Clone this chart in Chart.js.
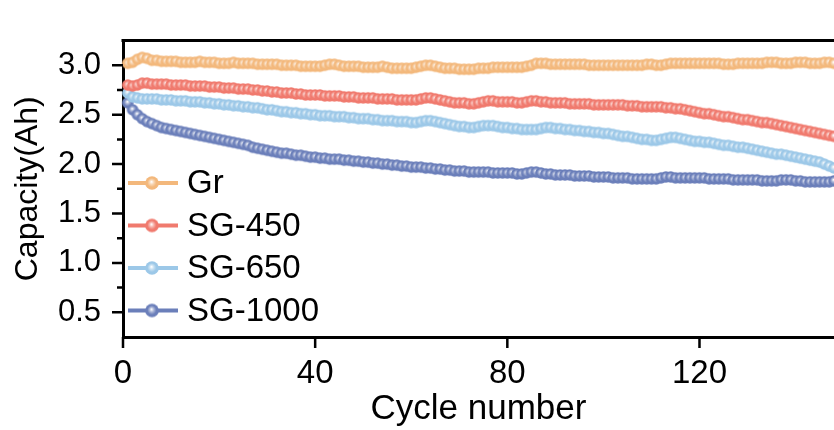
<!DOCTYPE html>
<html>
<head>
<meta charset="utf-8">
<script src="https://cdn.jsdelivr.net/npm/chart.js@4.4.0/dist/chart.umd.min.js"></script>
<style>
  body { margin: 0; background: #fff; }
  canvas { display: block; }
</style>
</head>
<body>
<canvas id="chart" width="834" height="430"></canvas>
<script>
var seriesNames = ["Gr", "SG-450", "SG-650", "SG-1000"];
var seriesColors = ["#F3B87C", "#F07A6E", "#9CC8E8", "#6B7FBA"];
var xTicks = [0, 40, 80, 120];
var yTicks = [0.5, 1.0, 1.5, 2.0, 2.5, 3.0];

// one point per cycle, cycles 1..148
var cycles = [];
for (var i = 1; i <= 148; i++) cycles.push(i);

var gr = [
  3.02, 3.03, 3.06, 3.08, 3.07, 3.05, 3.05, 3.04, 3.04, 3.04,
  3.04, 3.03, 3.03, 3.03, 3.03, 3.04, 3.03, 3.03, 3.03, 3.02,
  3.02, 3.02, 3.03, 3.02, 3.02, 3.02, 3.02, 3.01, 3.01, 3.01,
  3.01, 3.01, 3.00, 3.00, 3.00, 3.00, 2.99, 2.99, 2.99, 2.99,
  2.99, 3.00, 3.01, 3.01, 3.00, 2.99, 2.99, 2.99, 2.99, 2.98,
  2.98, 2.98, 2.98, 2.99, 2.98, 2.97, 2.97, 2.97, 2.97, 2.97,
  2.98, 2.99, 3.00, 3.00, 2.99, 2.98, 2.97, 2.97, 2.97, 2.96,
  2.96, 2.96, 2.96, 2.97, 2.97, 2.97, 2.98, 2.98, 2.98, 2.98,
  2.98, 2.98, 2.98, 2.99, 3.00, 3.02, 3.02, 3.02, 3.01, 3.01,
  3.01, 3.01, 3.01, 3.01, 3.01, 3.01, 3.00, 3.00, 3.00, 3.00,
  3.00, 3.00, 3.00, 3.00, 3.00, 3.00, 3.00, 3.00, 3.01, 3.01,
  3.00, 3.00, 3.01, 3.02, 3.02, 3.02, 3.02, 3.02, 3.02, 3.02,
  3.02, 3.02, 3.02, 3.02, 3.01, 3.01, 3.01, 3.02, 3.02, 3.02,
  3.02, 3.02, 3.02, 3.03, 3.03, 3.03, 3.02, 3.02, 3.02, 3.03,
  3.03, 3.03, 3.02, 3.02, 3.02, 3.03, 3.03, 3.02
];
var sg450 = [
  2.80, 2.79, 2.80, 2.82, 2.82, 2.81, 2.81, 2.81, 2.81, 2.80,
  2.80, 2.80, 2.80, 2.79, 2.79, 2.79, 2.79, 2.78, 2.78, 2.78,
  2.77, 2.77, 2.77, 2.76, 2.76, 2.76, 2.75, 2.75, 2.74, 2.74,
  2.73, 2.73, 2.72, 2.72, 2.72, 2.71, 2.71, 2.70, 2.70, 2.70,
  2.70, 2.69, 2.69, 2.69, 2.69, 2.68, 2.68, 2.68, 2.67, 2.67,
  2.67, 2.67, 2.66, 2.66, 2.66, 2.66, 2.65, 2.65, 2.65, 2.65,
  2.65, 2.66, 2.67, 2.67, 2.66, 2.65, 2.64, 2.63, 2.62, 2.62,
  2.62, 2.61, 2.61, 2.62, 2.63, 2.64, 2.64, 2.63, 2.63, 2.63,
  2.63, 2.62, 2.62, 2.63, 2.64, 2.64, 2.63, 2.63, 2.62, 2.62,
  2.62, 2.62, 2.61, 2.61, 2.61, 2.61, 2.61, 2.60, 2.60, 2.60,
  2.60, 2.60, 2.60, 2.60, 2.59, 2.59, 2.59, 2.58, 2.58, 2.58,
  2.58, 2.58, 2.57, 2.57, 2.56, 2.56, 2.55, 2.54, 2.53, 2.52,
  2.51, 2.51, 2.50, 2.49, 2.48, 2.48, 2.47, 2.46, 2.45, 2.45,
  2.44, 2.43, 2.42, 2.42, 2.41, 2.40, 2.39, 2.38, 2.37, 2.36,
  2.35, 2.34, 2.33, 2.32, 2.31, 2.30, 2.29, 2.28
];
var sg650 = [
  2.72, 2.68, 2.67, 2.66, 2.66, 2.66, 2.66, 2.65, 2.65, 2.65,
  2.64, 2.64, 2.64, 2.63, 2.63, 2.63, 2.62, 2.62, 2.61, 2.61,
  2.60, 2.60, 2.59, 2.59, 2.58, 2.58, 2.57, 2.57, 2.56, 2.55,
  2.55, 2.54, 2.53, 2.53, 2.52, 2.52, 2.51, 2.51, 2.50, 2.50,
  2.49, 2.49, 2.49, 2.48, 2.48, 2.48, 2.47, 2.47, 2.46, 2.46,
  2.46, 2.45, 2.45, 2.44, 2.44, 2.44, 2.43, 2.43, 2.43, 2.42,
  2.42, 2.43, 2.44, 2.44, 2.43, 2.42, 2.41, 2.40, 2.39, 2.38,
  2.38, 2.37, 2.37, 2.38, 2.39, 2.39, 2.39, 2.38, 2.37, 2.37,
  2.36, 2.36, 2.35, 2.35, 2.35, 2.35, 2.36, 2.37, 2.37, 2.36,
  2.36, 2.35, 2.35, 2.34, 2.34, 2.33, 2.33, 2.32, 2.32, 2.31,
  2.31, 2.30, 2.29, 2.28, 2.28, 2.27, 2.26, 2.25, 2.25, 2.24,
  2.24, 2.25, 2.26, 2.27, 2.27, 2.26, 2.25, 2.24, 2.23, 2.23,
  2.22, 2.22, 2.21, 2.20, 2.19, 2.19, 2.18, 2.17, 2.17, 2.16,
  2.15, 2.14, 2.13, 2.12, 2.11, 2.10, 2.10, 2.09, 2.08, 2.07,
  2.06, 2.05, 2.04, 2.03, 2.02, 2.00, 1.98, 1.96
];
var sg1000 = [
  2.62, 2.55, 2.50, 2.46, 2.43, 2.41, 2.39, 2.37, 2.36, 2.35,
  2.34, 2.33, 2.32, 2.31, 2.30, 2.29, 2.28, 2.27, 2.26, 2.25,
  2.24, 2.23, 2.22, 2.21, 2.20, 2.19, 2.17, 2.16, 2.15, 2.14,
  2.13, 2.12, 2.11, 2.11, 2.10, 2.09, 2.09, 2.08, 2.07, 2.07,
  2.06, 2.06, 2.05, 2.05, 2.05, 2.04, 2.04, 2.03, 2.03, 2.02,
  2.02, 2.01, 2.01, 2.00, 2.00, 1.99, 1.99, 1.98, 1.98, 1.97,
  1.97, 1.97, 1.96, 1.96, 1.95, 1.95, 1.94, 1.94, 1.93, 1.93,
  1.93, 1.92, 1.92, 1.92, 1.92, 1.92, 1.91, 1.91, 1.91, 1.91,
  1.91, 1.90, 1.90, 1.91, 1.92, 1.92, 1.91, 1.90, 1.90, 1.89,
  1.89, 1.89, 1.89, 1.88, 1.88, 1.88, 1.88, 1.87, 1.87, 1.87,
  1.87, 1.86, 1.86, 1.86, 1.86, 1.85, 1.85, 1.85, 1.85, 1.85,
  1.85, 1.86, 1.87, 1.87, 1.86, 1.86, 1.86, 1.86, 1.86, 1.86,
  1.86, 1.85, 1.85, 1.85, 1.85, 1.85, 1.84, 1.84, 1.84, 1.84,
  1.84, 1.84, 1.83, 1.83, 1.83, 1.83, 1.84, 1.84, 1.84, 1.83,
  1.83, 1.82, 1.82, 1.82, 1.82, 1.82, 1.82, 1.83
];
var allSeries = [gr, sg450, sg650, sg1000];

var FONT = "'Liberation Sans', Arial, sans-serif";

function lighten(hex, amt) {
  var n = parseInt(hex.slice(1), 16);
  var r = n >> 16, g = (n >> 8) & 255, b = n & 255;
  r = Math.round(r + (255 - r) * amt);
  g = Math.round(g + (255 - g) * amt);
  b = Math.round(b + (255 - b) * amt);
  return "rgb(" + r + "," + g + "," + b + ")";
}

// shaded ball used as marker
function ball(color, r) {
  var c = document.createElement("canvas");
  var s = Math.ceil(2 * r + 2);
  c.width = s; c.height = s;
  var g = c.getContext("2d");
  var cx = s / 2, cy = s / 2;
  var grd = g.createRadialGradient(cx - 0.5, cy - 1.2, 0.2, cx, cy, r);
  grd.addColorStop(0, "#ffffff");
  grd.addColorStop(0.3, lighten(color, 0.45));
  grd.addColorStop(0.65, color);
  grd.addColorStop(1, color);
  g.fillStyle = grd;
  g.beginPath();
  g.arc(cx, cy, r, 0, Math.PI * 2);
  g.fill();
  return c;
}

var datasets = allSeries.map(function (vals, k) {
  return {
    label: seriesNames[k],
    data: vals.map(function (v, j) { return { x: cycles[j], y: v }; }),
    borderColor: seriesColors[k],
    backgroundColor: seriesColors[k],
    borderWidth: 4,
    pointStyle: ball(seriesColors[k], 5.8),
    pointRadius: 6,
    pointHoverRadius: 6,
    tension: 0,
    clip: false
  };
});

// tick marks, top frame line and the legend in the plot corner
var decor = {
  id: "decor",
  afterDraw: function (chart) {
    var ctx = chart.ctx, ca = chart.chartArea;
    var xs = chart.scales.x, ys = chart.scales.y;
    ctx.save();
    ctx.strokeStyle = "#000";
    ctx.lineWidth = 3;
    ctx.beginPath();
    ctx.moveTo(ca.left - 1.5, ca.top);
    ctx.lineTo(ca.right, ca.top);
    ctx.stroke();

    ctx.lineWidth = 2.5;
    ctx.beginPath();
    xTicks.forEach(function (v) {
      var px = xs.getPixelForValue(v);
      ctx.moveTo(px, ca.bottom);
      ctx.lineTo(px, ca.bottom + 11);
    });
    for (var v = 0.75; v < 3.2; v += 0.5) {
      var py = ys.getPixelForValue(v);
      ctx.moveTo(ca.left, py);
      ctx.lineTo(ca.left - 6, py);
    }
    yTicks.forEach(function (v) {
      var py = ys.getPixelForValue(v);
      ctx.moveTo(ca.left, py);
      ctx.lineTo(ca.left - 11, py);
    });
    ctx.stroke();

    // legend
    var lx = 128, ly = 183, gap = 42.5;
    ctx.font = "33px " + FONT;
    ctx.textBaseline = "middle";
    ctx.textAlign = "left";
    chart.data.datasets.forEach(function (ds, k) {
      var y = ly + k * gap;
      ctx.strokeStyle = ds.borderColor;
      ctx.lineWidth = 4;
      ctx.beginPath();
      ctx.moveTo(lx, y);
      ctx.lineTo(lx + 50, y);
      ctx.stroke();
      var img = ball(ds.borderColor, 6.8);
      ctx.drawImage(img, lx + 24 - img.width / 2, y - img.height / 2);
      ctx.fillStyle = "#000";
      ctx.fillText(ds.label, lx + 59, y + 1);
    });
    ctx.restore();
  }
};

var chart = new Chart(document.getElementById("chart").getContext("2d"), {
  type: "line",
  data: { datasets: datasets },
  options: {
    responsive: false,
    animation: false,
    layout: { autoPadding: false, padding: { top: 12, right: 0, left: 0, bottom: 0 } },
    plugins: { legend: { display: false }, tooltip: { enabled: false } },
    scales: {
      x: {
        type: "linear",
        min: 0,
        max: 148,
        afterFit: function (s) { s.height = 93; },
        grid: { display: false, drawTicks: false },
        border: { display: true, color: "#000", width: 3 },
        ticks: {
          stepSize: 40,
          includeBounds: false,
          padding: 17,
          color: "#000",
          font: { family: FONT, size: 33 },
          maxRotation: 0
        },
        title: {
          display: true,
          text: "Cycle number",
          color: "#000",
          font: { family: FONT, size: 35 },
          padding: { top: 0, bottom: 0 }
        }
      },
      y: {
        type: "linear",
        min: 0.25,
        max: 3.25,
        afterFit: function (s) { s.width = 123; },
        grid: { display: false, drawTicks: false },
        border: { display: true, color: "#000", width: 3 },
        ticks: {
          stepSize: 0.25,
          autoSkip: false,
          padding: 22,
          color: "#000",
          font: { family: FONT, size: 31 },
          callback: function (v) {
            var twice = v * 2;
            if (Math.abs(twice - Math.round(twice)) < 1e-6 && v > 0.3 && v < 3.2) return v.toFixed(1);
            return "";
          }
        },
        title: {
          display: true,
          text: "Capacity(Ah)",
          color: "#000",
          font: { family: FONT, size: 32 },
          padding: { top: 9, bottom: 0 }
        }
      }
    }
  },
  plugins: [decor]
});
</script>
</body>
</html>
